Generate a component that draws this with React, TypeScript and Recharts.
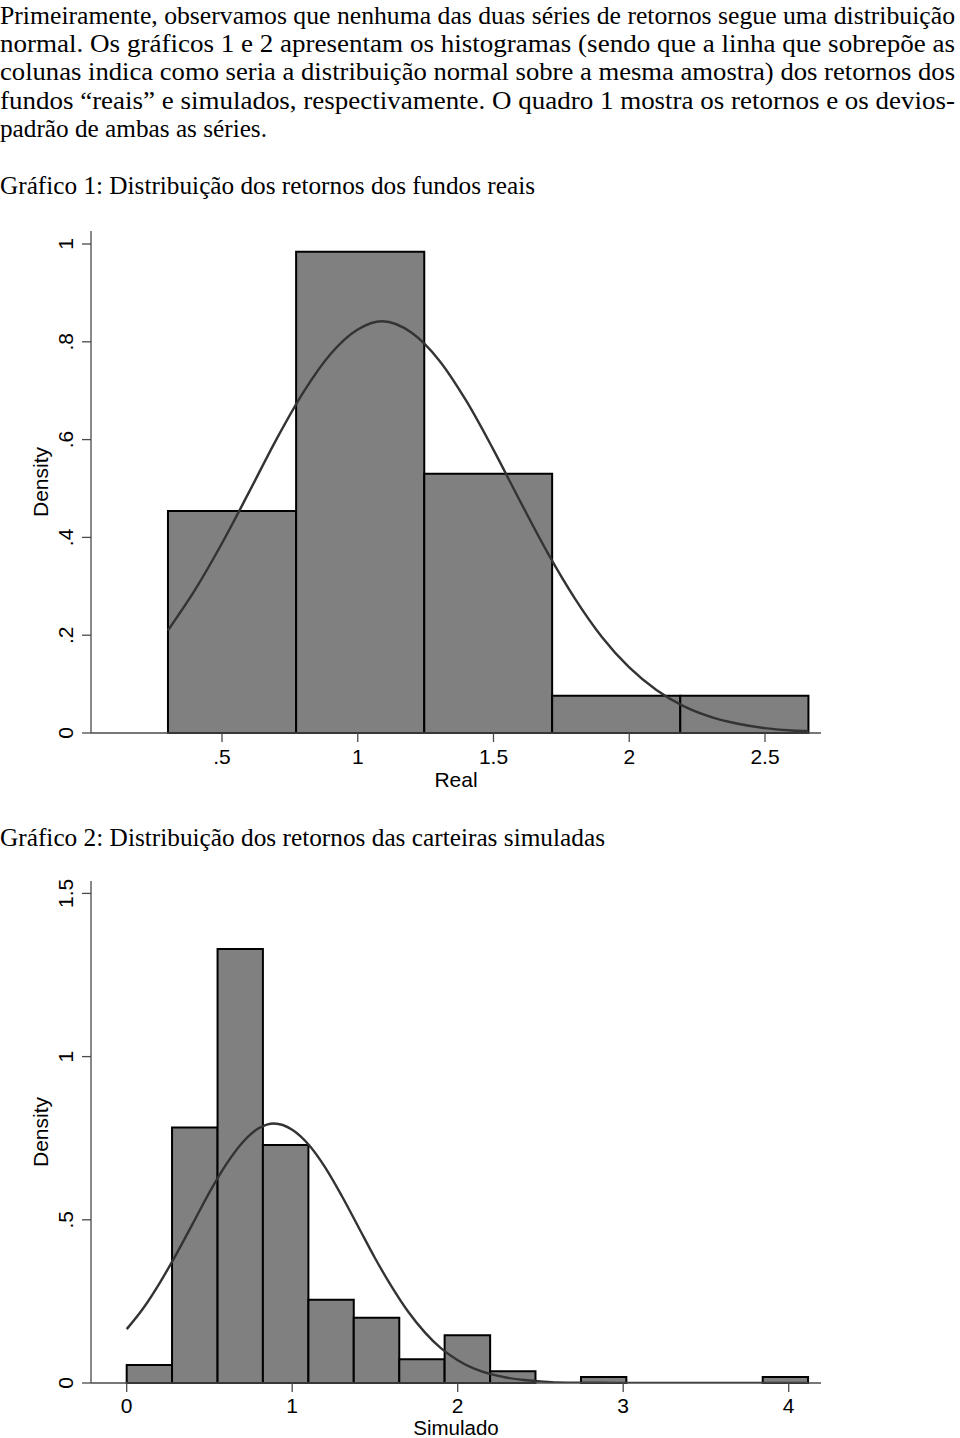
import React from 'react';
import { ComposedChart, XAxis, YAxis, Line, ReferenceArea } from 'recharts';

// ---------- Text content ----------
const paragraphLines = [
  'Primeiramente, observamos que nenhuma das duas séries de retornos segue uma distribuição',
  'normal. Os gráficos 1 e 2 apresentam os histogramas (sendo que a linha que sobrepõe as',
  'colunas indica como seria a distribuição normal sobre a mesma amostra) dos retornos dos',
  'fundos “reais” e simulados, respectivamente. O quadro 1 mostra os retornos e os devios-',
  'padrão de ambas as séries.',
];
const chartTitles = [
  'Gráfico 1: Distribuição dos retornos dos fundos reais',
  'Gráfico 2: Distribuição dos retornos das carteiras simuladas',
];
const yTitle = 'Density';

// ---------- Chart 1: fundos reais ----------
const realBinEdges = [0.301, 0.773, 1.245, 1.716, 2.188, 2.66];
const realDensity = [0.454, 0.984, 0.53, 0.076, 0.076];
const realCurveX = [0.301, 0.4, 0.5, 0.6, 0.7, 0.8, 0.9, 1.0, 1.09, 1.2, 1.3, 1.4, 1.5, 1.6, 1.7, 1.8, 1.9, 2.0, 2.1, 2.2, 2.3, 2.4, 2.5, 2.6, 2.66];
const realCurveY = [0.21, 0.292, 0.388, 0.493, 0.6, 0.697, 0.775, 0.825, 0.842, 0.818, 0.762, 0.679, 0.579, 0.472, 0.368, 0.275, 0.196, 0.134, 0.088, 0.055, 0.033, 0.019, 0.01, 0.005, 0.004];
const realXTicks = [0.5, 1, 1.5, 2, 2.5];
const realXTickLabels = ['.5', '1', '1.5', '2', '2.5'];
const realYTicks = [0, 0.2, 0.4, 0.6, 0.8, 1];
const realYTickLabels = ['0', '.2', '.4', '.6', '.8', '1'];
const realXDomain = [0.0175, 2.7063];
const realYDomain = [0, 1.0266];
const realXTitle = 'Real';

// ---------- Chart 2: carteiras simuladas ----------
const simBinEdges = [0, 0.274, 0.549, 0.823, 1.098, 1.372, 1.647, 1.921, 2.196, 2.47, 2.745, 3.019, 3.294, 3.568, 3.843, 4.117];
const simDensity = [0.055, 0.783, 1.33, 0.729, 0.255, 0.2, 0.073, 0.146, 0.036, 0, 0.018, 0, 0, 0, 0.018];
const simCurveX = [0, 0.1, 0.2, 0.3, 0.4, 0.5, 0.6, 0.7, 0.8, 0.89, 1.0, 1.1, 1.2, 1.3, 1.4, 1.5, 1.6, 1.7, 1.8, 1.9, 2.0, 2.1, 2.2, 2.3, 2.4, 2.5, 2.6, 2.8, 3.0, 3.5, 4.117];
const simCurveY = [0.165, 0.229, 0.307, 0.395, 0.489, 0.584, 0.669, 0.737, 0.781, 0.795, 0.776, 0.73, 0.66, 0.573, 0.478, 0.383, 0.296, 0.219, 0.156, 0.106, 0.07, 0.044, 0.027, 0.016, 0.009, 0.005, 0.002, 0.001, 0, 0, 0];
const simXTicks = [0, 1, 2, 3, 4];
const simXTickLabels = ['0', '1', '2', '3', '4'];
const simYTicks = [0, 0.5, 1, 1.5];
const simYTickLabels = ['0', '.5', '1', '1.5'];
const simXDomain = [-0.2157, 4.1952];
const simYDomain = [0, 1.538];
const simXTitle = 'Simulado';

// ---------- Styles / layout ----------
const SERIF = '"Liberation Serif", "Times New Roman", serif';
const SANS = '"Liberation Sans", Arial, sans-serif';
const AXIS = '#4a4a4a';
const BAR_FILL = '#808080';
const BAR_STROKE = '#000000';
const CURVE = '#333333';
const PARA_BASELINES = [24, 52.2, 80.4, 108.6, 136.8];
const PARA_WIDTHS = [955, 955, 955, 955, 267];
const TITLE_BASELINES = [194, 846];
const TITLE_WIDTHS = [535, 605];
const TEXT_SIZE = 25.5;

const makeFmt = (ticks: number[], labels: string[]) => (v: number) => {
  const i = ticks.findIndex((t) => Math.abs(t - v) < 1e-9);
  return i >= 0 ? labels[i] : String(v);
};

const XTick = (props: any) => {
  const { x, y, payload, fmt } = props;
  return (
    <text x={x} y={y + 15} textAnchor="middle" fontSize={21} fill="#000" fontFamily={SANS}>
      {fmt(payload.value)}
    </text>
  );
};

const YTick = (props: any) => {
  const { x, y, payload, fmt } = props;
  return (
    <text x={x} y={y} transform={`rotate(-90 ${x} ${y})`} textAnchor="middle" fontSize={21} fill="#000" fontFamily={SANS}>
      {fmt(payload.value)}
    </text>
  );
};

type HistProps = {
  edges: number[];
  density: number[];
  curveX: number[];
  curveY: number[];
  xTicks: number[];
  xTickLabels: string[];
  yTicks: number[];
  yTickLabels: string[];
  xDomain: number[];
  yDomain: number[];
  xTitle: string;
  top: number;
  height: number;
  xAxisHeight: number;
  titleOffset: number;
  xTickMargin: number;
  titleSize: number;
};

function Histogram(p: HistProps) {
  const curve = p.curveX.map((x, i) => ({ x, y: p.curveY[i] }));
  const bins = p.density
    .map((d, i) => ({ x1: p.edges[i], x2: p.edges[i + 1], d }))
    .filter((b) => b.d > 0);
  const xf = makeFmt(p.xTicks, p.xTickLabels);
  const yf = makeFmt(p.yTicks, p.yTickLabels);
  return (
    <div style={{ position: 'absolute', left: 0, top: p.top }}>
      <ComposedChart width={960} height={p.height} data={curve} margin={{ top: 31, right: 139, bottom: 0, left: 0 }}>
        <XAxis
          dataKey="x"
          type="number"
          domain={p.xDomain}
          allowDataOverflow
          ticks={p.xTicks}
          interval={0}
          tickSize={9}
          tickMargin={p.xTickMargin}
          height={p.xAxisHeight}
          axisLine={{ stroke: AXIS, strokeWidth: 1.3 }}
          tickLine={{ stroke: AXIS, strokeWidth: 1.3 }}
          tick={<XTick fmt={xf} />}
          label={{ value: p.xTitle, position: 'insideBottom', offset: p.titleOffset, fontSize: p.titleSize, fill: '#000', fontFamily: SANS }}
        />
        <YAxis
          type="number"
          domain={p.yDomain}
          allowDataOverflow
          ticks={p.yTicks}
          interval={0}
          tickSize={9}
          tickMargin={9}
          width={91}
          axisLine={{ stroke: AXIS, strokeWidth: 1.3 }}
          tickLine={{ stroke: AXIS, strokeWidth: 1.3 }}
          tick={<YTick fmt={yf} />}
          label={{ value: yTitle, angle: -90, position: 'center', dx: -4.5, fontSize: 21, fill: '#000', fontFamily: SANS }}
        />
        <XAxis
          xAxisId="top"
          orientation="top"
          type="number"
          domain={p.xDomain}
          allowDataOverflow
          height={0}
          tick={false}
          tickLine={false}
          axisLine={{ stroke: AXIS, strokeWidth: 1.3 }}
        />
        <YAxis
          yAxisId="right"
          orientation="right"
          type="number"
          domain={p.yDomain}
          allowDataOverflow
          width={0}
          tick={false}
          tickLine={false}
          axisLine={{ stroke: AXIS, strokeWidth: 1 }}
        />
        {bins.map((b, i) => (
          <ReferenceArea
            key={i}
            x1={b.x1}
            x2={b.x2}
            y1={0}
            y2={b.d}
            fill={BAR_FILL}
            fillOpacity={1}
            stroke={BAR_STROKE}
            strokeWidth={2}
            ifOverflow="visible"
          />
        ))}
        <Line
          dataKey="y"
          type="monotone"
          stroke={CURVE}
          strokeWidth={2.4}
          dot={false}
          activeDot={false}
          isAnimationActive={false}
        />
      </ComposedChart>
    </div>
  );
}

export default function App() {
  return (
    <div style={{ position: 'absolute', left: 0, top: 0, width: 960, height: 1438, background: '#fff', overflow: 'hidden' }}>
      <svg width={960} height={1438} style={{ position: 'absolute', left: 0, top: 0 }}>
        {paragraphLines.map((t, i) => (
          <text
            key={i}
            x={0}
            y={PARA_BASELINES[i]}
            textLength={PARA_WIDTHS[i]}
            lengthAdjust="spacingAndGlyphs"
            fontSize={TEXT_SIZE}
            fontFamily={SERIF}
            fill="#000"
          >
            {t}
          </text>
        ))}
        {chartTitles.map((t, i) => (
          <text
            key={'t' + i}
            x={0}
            y={TITLE_BASELINES[i]}
            textLength={TITLE_WIDTHS[i]}
            lengthAdjust="spacingAndGlyphs"
            fontSize={TEXT_SIZE}
            fontFamily={SERIF}
            fill="#000"
          >
            {t}
          </text>
        ))}
      </svg>
      <Histogram
        edges={realBinEdges}
        density={realDensity}
        curveX={realCurveX}
        curveY={realCurveY}
        xTicks={realXTicks}
        xTickLabels={realXTickLabels}
        yTicks={realYTicks}
        yTickLabels={realYTickLabels}
        xDomain={realXDomain}
        yDomain={realYDomain}
        xTitle={realXTitle}
        top={200}
        height={600}
        xAxisHeight={67}
        titleOffset={13}
        xTickMargin={7}
        titleSize={21}
      />
      <Histogram
        edges={simBinEdges}
        density={simDensity}
        curveX={simCurveX}
        curveY={simCurveY}
        xTicks={simXTicks}
        xTickLabels={simXTickLabels}
        yTicks={simYTicks}
        yTickLabels={simYTickLabels}
        xDomain={simXDomain}
        yDomain={simYDomain}
        xTitle={simXTitle}
        top={850}
        height={588}
        xAxisHeight={55}
        titleOffset={3.5}
        xTickMargin={5.5}
        titleSize={20.5}
      />
    </div>
  );
}
